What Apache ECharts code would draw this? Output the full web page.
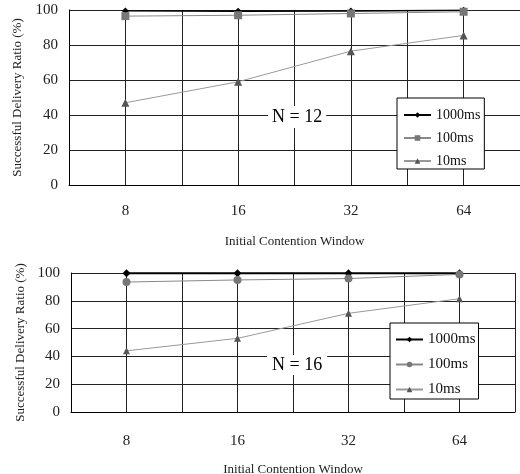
<!DOCTYPE html>
<html>
<head>
<meta charset="utf-8">
<script src="https://cdn.jsdelivr.net/npm/echarts@6/dist/echarts.min.js"></script>
<style>
  html, body { margin: 0; padding: 0; background: #fff; }
  #chart { width: 520px; height: 474px; }
</style>
</head>
<body>
<div id="chart"></div>
<script>
// x tick labels (initial contention window)
const categories = ['8', '16', '32', '64'];
const seriesNames = ['1000ms', '100ms', '10ms'];
const panelLabels = ['N = 12', 'N = 16'];

// N = 12
const n12_1000 = [99.5, 99.3, 99.4, 99.8];
const n12_100 = [96.5, 97, 98, 99];
const n12_10 = [47, 59, 76.5, 85.5];

// N = 16
const n16_1000 = [99.8, 99.8, 99.8, 99.8];
const n16_100 = [93.5, 95, 96, 99];
const n16_10 = [44, 53, 71, 81.5];

// categories sit at the odd positions of a 0..8 value axis so grid lines fall at centres and boundaries
const toPoints = vals => vals.map((v, i) => [2 * i + 1, v]);

// series of each panel get a panel suffix so each legend picks its own symbol
const names12 = seriesNames.map(n => n + '|12');
const names16 = seriesNames.map(n => n + '|16');

const font = 'Liberation Serif';

const xAxisBase = (idx, margin, gap) => ({
  gridIndex: idx,
  type: 'value',
  min: 0,
  max: 8,
  interval: 1,
  axisLine: { show: true, lineStyle: { color: '#000', width: 1 } },
  axisTick: { show: false },
  splitLine: { show: true, lineStyle: { color: '#222', width: 1 } },
  axisLabel: {
    formatter: v => (v % 2 === 1 ? categories[(v - 1) / 2] : ''),
    fontSize: 15, color: '#222', fontFamily: font, margin: margin
  },
  name: 'Initial Contention Window',
  nameLocation: 'middle',
  nameGap: gap,
  nameTextStyle: { fontSize: 13, color: '#222', fontFamily: font }
});

const yAxisBase = (idx, gap) => ({
  gridIndex: idx,
  type: 'value',
  min: 0,
  max: 100,
  interval: 20,
  axisLine: { show: true, lineStyle: { color: '#000', width: 1 } },
  axisTick: { show: false },
  splitLine: { show: true, lineStyle: { color: '#222', width: 1 } },
  axisLabel: { fontSize: 15, color: '#222', fontFamily: font, margin: 11 },
  name: 'Successful Delivery Ratio (%)',
  nameLocation: 'middle',
  nameRotate: 90,
  nameGap: gap,
  nameTextStyle: { fontSize: 13, color: '#222', fontFamily: font }
});

const mkSeries = (idx, name, vals, symbol, size, lineColor, markColor, width) => ({
  name: name,
  type: 'line',
  xAxisIndex: idx,
  yAxisIndex: idx,
  data: toPoints(vals),
  symbol: symbol,
  symbolSize: size,
  lineStyle: { color: lineColor, width: width },
  itemStyle: { color: markColor },
  emphasis: { disabled: true }
});

const legendBase = {
  orient: 'vertical',
  itemWidth: 27,
  itemHeight: 7,
  backgroundColor: '#fff',
  borderColor: '#000',
  borderWidth: 1,
  borderRadius: 0,
  selectedMode: false,
  formatter: name => name.split('|')[0]
};

const chart = echarts.init(document.getElementById('chart'));
chart.setOption({
  animation: false,
  textStyle: { fontFamily: font },
  title: [
    {
      text: panelLabels[0], left: 268, top: 106, padding: [2, 4],
      backgroundColor: '#fff',
      textStyle: { fontSize: 18, fontWeight: 'normal', color: '#000', fontFamily: font }
    },
    {
      text: panelLabels[1], left: 267, top: 355, padding: [1, 5],
      backgroundColor: '#fff',
      textStyle: { fontSize: 18, fontWeight: 'normal', color: '#000', fontFamily: font }
    }
  ],
  legend: [
    Object.assign({}, legendBase, {
      data: names12, left: 397, top: 98, padding: [10, 4, 1, 6], itemGap: 9,
      textStyle: { fontSize: 14, color: '#111', fontFamily: font }
    }),
    Object.assign({}, legendBase, {
      data: names16, left: 390, top: 323, padding: [9, 3, 2, 5], itemGap: 10,
      textStyle: { fontSize: 15, color: '#111', fontFamily: font }
    })
  ],
  grid: [
    { left: 69, top: 10, width: 451, height: 175, outerBoundsMode: 'none' },
    { left: 71, top: 273, width: 444, height: 139, outerBoundsMode: 'none' }
  ],
  xAxis: [xAxisBase(0, 19, 50), xAxisBase(1, 22, 51)],
  yAxis: [yAxisBase(0, 45), yAxisBase(1, 44)],
  series: [
    mkSeries(0, names12[0], n12_1000, 'diamond', 7, '#000', '#000', 1.5),
    mkSeries(0, names12[1], n12_100, 'rect', 8, '#888', '#777', 1),
    mkSeries(0, names12[2], n12_10, 'triangle', 8, '#999', '#555', 1),
    mkSeries(1, names16[0], n16_1000, 'diamond', 8, '#000', '#000', 2),
    mkSeries(1, names16[1], n16_100, 'circle', 8, '#888', '#777', 1),
    mkSeries(1, names16[2], n16_10, 'triangle', 7, '#999', '#555', 1)
  ]
});
</script>
</body>
</html>
